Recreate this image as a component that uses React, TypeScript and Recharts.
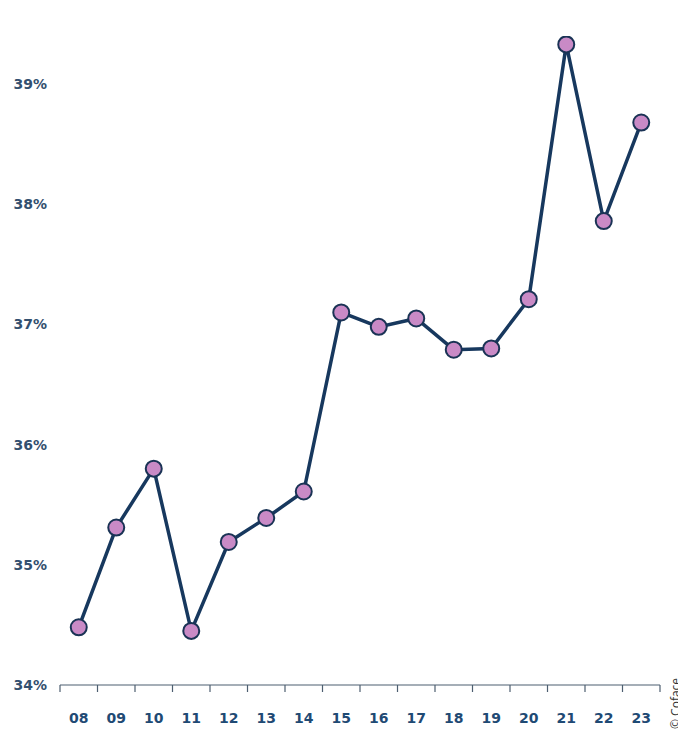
import { LineChart, Line, XAxis, YAxis } from "recharts";

const years = ["08", "09", "10", "11", "12", "13", "14", "15", "16", "17", "18", "19", "20", "21", "22", "23"];
const shares = [34.48, 35.31, 35.8, 34.45, 35.19, 35.39, 35.61, 37.1, 36.98, 37.05, 36.79, 36.8, 37.21, 39.33, 37.86, 38.68];
const yTicks = [34, 35, 36, 37, 38, 39];

const data = years.map((year, i) => ({ year, share: shares[i] }));

const W = 670;
const H = 723;
const M = { top: 28, right: 18, left: 0, bottom: 0 };
const Y_AXIS_W = 52;
const BAND = (W - M.left - M.right - Y_AXIS_W) / years.length;
const FONT = "DejaVu Sans";

function YearTick(props: any) {
    const { x, y, payload, index } = props;
    const last = index === years.length - 1;
    return (
        <g>
            <line x1={x - BAND / 2} y1={y} x2={x - BAND / 2} y2={y + 7} stroke="#4d5e70" strokeWidth={1.2} />
            {last && <line x1={x + BAND / 2} y1={y} x2={x + BAND / 2} y2={y + 7} stroke="#4d5e70" strokeWidth={1.2} />}
            <text x={x} y={y + 38} textAnchor="middle" fill="#1f4a74" fontSize={14} fontWeight={700} fontFamily={FONT}>
                {payload.value}
            </text>
        </g>
    );
}

export default function App() {
    return (
        <div style={{ position: "relative", width: W, height: H }}>
            <style>{`html, body { overflow: hidden; }`}</style>
            <LineChart width={W} height={H} data={data} margin={M}>
                <XAxis
                    dataKey="year"
                    scale="band"
                    axisLine={{ stroke: "#4d5e70", strokeWidth: 1.2 }}
                    tickLine={false}
                    tickSize={0}
                    tickMargin={0}
                    interval={0}
                    tick={<YearTick />}
                    height={46}
                />
                <YAxis
                    domain={[34, 39.4]}
                    ticks={yTicks}
                    allowDataOverflow
                    axisLine={false}
                    tickLine={false}
                    width={Y_AXIS_W}
                    tickMargin={7}
                    tickFormatter={(v: number) => `${v}%`}
                    tick={{ fill: "#33506f", fontSize: 14, fontWeight: 700, fontFamily: FONT }}
                />
                <Line
                    type="linear"
                    dataKey="share"
                    stroke="#17385e"
                    strokeWidth={3.5}
                    dot={{ r: 8, fill: "#c98ac6", stroke: "#1a3355", strokeWidth: 2 }}
                    isAnimationActive={false}
                />
            </LineChart>
            <svg
                width={678}
                height={H}
                style={{ position: "absolute", left: 0, top: 0, pointerEvents: "none" }}
            >
                <text
                    transform="translate(672, 721) rotate(-90)"
                    fontFamily="Open Sans"
                    fontSize={12}
                    fill="#333"
                >
                    © Coface
                </text>
            </svg>
        </div>
    );
}
